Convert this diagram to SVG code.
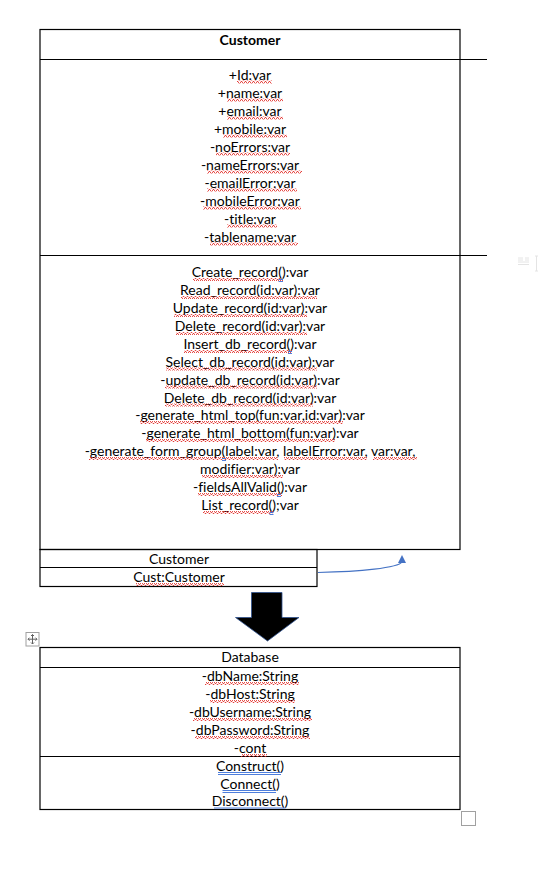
<svg xmlns="http://www.w3.org/2000/svg" width="541" height="871" viewBox="0 0 541 871">
<style>
.t{font-family:Lato,"Liberation Sans",sans-serif;font-size:14px;fill:#000;text-anchor:middle;font-variant-ligatures:none}
.b{font-weight:bold}
.ln{stroke:#000;stroke-width:1.2;fill:none}
.sq{fill:url(#squig)}
.bl{stroke:#3A6FD8;stroke-width:0.9;fill:none}
</style>
<defs>
<pattern id="squig" x="0" y="0" width="4" height="3" patternUnits="userSpaceOnUse">
<path d="M0,2.5 L1,0.5 L2,0.5 L3,2.5 L4,2.5" stroke="#E0201A" stroke-width="0.8" fill="none"/>
</pattern>
<marker id="ah" markerWidth="8" markerHeight="8" refX="6" refY="4" orient="auto" markerUnits="userSpaceOnUse">
<path d="M0,0 L8,4 L0,8 Z" fill="#4472C4"/>
</marker>
</defs>
<rect width="541" height="871" fill="#fff"/>

<g id="customer">
<rect x="40" y="29.5" width="420" height="520" class="ln"/>
<line x1="40" y1="59.5" x2="487" y2="59.5" class="ln"/>
<line x1="40" y1="255.5" x2="487" y2="255.5" class="ln"/>
<text x="250" y="45" class="t b">Customer</text>
<text x="250" y="80" class="t">+Id:var</text>
<text x="250" y="98" class="t">+name:var</text>
<text x="250" y="116" class="t">+email:var</text>
<text x="250" y="134" class="t">+mobile:var</text>
<text x="250" y="152" class="t">-noErrors:var</text>
<text x="250" y="170" class="t">-nameErrors:var</text>
<text x="250" y="188" class="t">-emailError:var</text>
<text x="250" y="206" class="t">-mobileError:var</text>
<text x="250" y="224" class="t">-title:var</text>
<text x="250" y="242" class="t">-tablename:var</text>
<g id="attr-squiggles">
<rect x="237" y="80.5" width="35" height="3" class="sq"/>
<rect x="227" y="98.5" width="56" height="3" class="sq"/>
<rect x="227" y="116.5" width="56" height="3" class="sq"/>
<rect x="223" y="134.5" width="64" height="3" class="sq"/>
<rect x="216" y="152.5" width="74" height="3" class="sq"/>
<rect x="207" y="170.5" width="95" height="3" class="sq"/>
<rect x="207" y="188.5" width="90" height="3" class="sq"/>
<rect x="203" y="206.5" width="98" height="3" class="sq"/>
<rect x="227" y="224.5" width="50" height="3" class="sq"/>
<rect x="210" y="242.5" width="88" height="3" class="sq"/>
</g>
<text x="250" y="277" class="t">Create_record():var</text>
<text x="250" y="295" class="t">Read_record(id:var):var</text>
<text x="250" y="313" class="t">Update_record(id:var):var</text>
<text x="250" y="331" class="t">Delete_record(id:var):var</text>
<text x="250" y="349" class="t">Insert_db_record():var</text>
<text x="250" y="366.5" class="t">Select_db_record(id:var):var</text>
<text x="250" y="384.5" class="t">-update_db_record(id:var):var</text>
<text x="250" y="402.5" class="t">Delete_db_record(id:var):var</text>
<text x="250" y="420" class="t">-generate_html_top(fun:var,id:var):var</text>
<text x="250" y="438" class="t">-generate_html_bottom(fun:var):var</text>
<text x="250" y="456" class="t">-generate_form_group(label:var, labelError:var, var:var,</text>
<text x="250" y="474" class="t">modifier:var):var</text>
<text x="250" y="492" class="t">-fieldsAllValid():var</text>
<text x="250" y="510" class="t">List_record();var</text>
<g id="method-squiggles">
<rect x="193" y="278" width="90" height="3" class="sq"/>
<rect x="181" y="296" width="136" height="3" class="sq"/>
<rect x="174" y="314" width="133" height="3" class="sq"/>
<rect x="176" y="332" width="131" height="3" class="sq"/>
<rect x="184" y="350" width="108" height="3" class="sq"/>
<rect x="166" y="367.5" width="151" height="3" class="sq"/>
<rect x="165" y="385.5" width="152" height="3" class="sq"/>
<rect x="165" y="403.5" width="148" height="3" class="sq"/>
<rect x="140" y="421" width="203" height="3" class="sq"/>
<rect x="146" y="439" width="189" height="3" class="sq"/>
<rect x="89" y="457" width="189" height="3" class="sq"/>
<rect x="284" y="457" width="83" height="3" class="sq"/>
<rect x="373" y="457" width="44" height="3" class="sq"/>
<rect x="202" y="475" width="81" height="3" class="sq"/>
<rect x="198" y="493" width="84" height="3" class="sq"/>
<rect x="203" y="511" width="70" height="3" class="sq"/>
</g>
<g id="blue-marks" class="bl">
<path d="M278.5,279.5 h4.5 M278.5,281.5 h4.5"/>
<path d="M288,351.5 h4 M288,353.5 h4"/>
<path d="M222,458.5 h4 M222,460.5 h4"/>
<path d="M277,494.5 h4 M277,496.5 h4"/>
<path d="M269.5,512.5 h4 M269.5,514.5 h4"/>
</g>
</g>

<g id="cust-ref">
<rect x="40" y="549.5" width="277" height="37" class="ln"/>
<line x1="40" y1="567.5" x2="317" y2="567.5" class="ln"/>
<text x="179" y="564" class="t">Customer</text>
<text x="179" y="582" class="t">Cust:Customer</text>
<rect x="136" y="583" width="88" height="3" class="sq"/>
</g>

<g id="connectors">
<path d="M318,572.5 C360,571.5 398,568 402,562 L402,557" stroke="#4472C4" stroke-width="1.2" fill="none" marker-end="url(#ah)"/>
<path d="M251.5,592.5 H282 V617.5 H299 L267.5,641 L235.5,617.5 H251.5 Z" fill="#000" stroke="#2F528F" stroke-width="0.8"/>
</g>

<g id="database">
<rect x="40" y="647.5" width="420" height="162" class="ln"/>
<line x1="40" y1="667.5" x2="460" y2="667.5" class="ln"/>
<line x1="40" y1="756.5" x2="460" y2="756.5" class="ln"/>
<text x="250" y="662" class="t">Database</text>
<text x="250" y="681" class="t">-dbName:String</text>
<text x="250" y="699" class="t">-dbHost:String</text>
<text x="250" y="717" class="t">-dbUsername:String</text>
<text x="250" y="735" class="t">-dbPassword:String</text>
<text x="250" y="753" class="t">-cont</text>
<text x="250" y="771" class="t">Construct()</text>
<text x="250" y="789" class="t">Connect()</text>
<text x="250" y="806" class="t">Disconnect()</text>
<rect x="205" y="682" width="94" height="3" class="sq"/>
<rect x="210" y="700" width="85" height="3" class="sq"/>
<rect x="193" y="718" width="119" height="3" class="sq"/>
<rect x="195" y="736" width="115" height="3" class="sq"/>
<rect x="241" y="754" width="26" height="3" class="sq"/>
<path class="bl" d="M218,772.5 H281 M218,774.5 H281 M222.5,790.5 H276 M222.5,792.5 H276 M214,808 H285.5"/>
</g>

<g id="word-ui" fill="none" stroke="#A0A0A0" stroke-width="1">
<rect x="26" y="632.5" width="13" height="13.5"/>
<path d="M32.5,634.5 V644 M28,639.2 H37" stroke="#606060"/>
<path d="M31,636 L32.5,634.5 L34,636 M31,642.5 L32.5,644 L34,642.5 M29.5,637.7 L28,639.2 L29.5,640.7 M35.5,637.7 L37,639.2 L35.5,640.7" stroke="#606060"/>
<rect x="461.5" y="811.5" width="14" height="14"/>
<path d="M518,258 H523 M518,260 H523 M518,262 H529 M518,264.5 H529 M525,258 H529 M525,260 H529" stroke="#E4E4E4"/>
<path d="M535,256 H538 M536.5,256 V271 M535,271 H538" stroke="#E4E4E4"/>
</g>
</svg>
